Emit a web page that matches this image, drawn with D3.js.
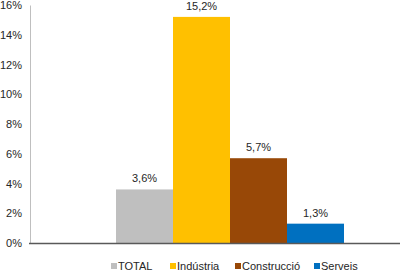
<!DOCTYPE html>
<html>
<head>
<meta charset="utf-8">
<script src="https://cdn.jsdelivr.net/npm/d3@7"></script>
<style>
  body { margin: 0; background: #fff; }
  svg text { font-family: "Liberation Sans", Arial, sans-serif; fill: #262626; }
</style>
</head>
<body>
<div id="container"></div>
<script>
var series = ['TOTAL', 'Indústria', 'Construcció', 'Serveis'],
    values = [3.6, 15.2, 5.7, 1.3],
    labels = ['3,6%', '15,2%', '5,7%', '1,3%'],
    colors = ['#bfbfbf', '#ffc000', '#984807', '#0070c0'],
    yTicks = [0, 2, 4, 6, 8, 10, 12, 14, 16];

var w = 400, h = 271,
    margin = {top: 5, right: 0, bottom: 28, left: 30};

var svg = d3.select('#container').append('svg')
    .attr('width', w)
    .attr('height', h);

/* y scale */
var yScale = d3.scaleLinear()
    .domain([0, 16])
    .range([h - margin.bottom, margin.top]);

/* single category, bars sit in the middle of a wider plot */
var xScale = d3.scaleBand()
    .domain(series)
    .range([116, 344])
    .padding(0);

// y axis
var yAxis = d3.axisLeft(yScale)
    .tickValues(yTicks)
    .tickSize(0)
    .tickPadding(8)
    .tickFormat(d => d + '%');

var gy = svg.append('g')
    .attr('transform', 'translate(' + margin.left + ',0)')
    .call(yAxis);
gy.select('.domain').attr('stroke', '#bfbfbf').attr('stroke-width', 1);
gy.selectAll('text').style('font-size', '11px').attr('fill', '#262626');

// bars
svg.selectAll('rect.bar').data(series)
    .enter().append('rect')
        .attr('class', 'bar')
        .attr('x', d => xScale(d))
        .attr('y', (d, i) => yScale(values[i]))
        .attr('width', xScale.bandwidth())
        .attr('height', (d, i) => yScale(0) - yScale(values[i]))
        .style('fill', (d, i) => colors[i]);

// value labels
svg.selectAll('text.val').data(series)
    .enter().append('text')
        .attr('class', 'val')
        .attr('x', d => xScale(d) + xScale.bandwidth() / 2)
        .attr('y', (d, i) => yScale(values[i]) - 7)
        .attr('text-anchor', 'middle')
        .style('font-size', '11px')
        .text((d, i) => labels[i]);

// x axis line
svg.append('line')
    .attr('x1', margin.left - 1)
    .attr('x2', w)
    .attr('y1', yScale(0) + 0.5)
    .attr('y2', yScale(0) + 0.5)
    .attr('stroke', '#595959')
    .attr('stroke-width', 1.5);

// legend
var legendX = [111, 170, 235, 314];
var legend = svg.selectAll('g.legend').data(series)
    .enter().append('g')
        .attr('class', 'legend')
        .attr('transform', (d, i) => 'translate(' + legendX[i] + ',266)');
legend.append('rect')
    .attr('x', 0).attr('y', -3)
    .attr('width', 6).attr('height', 6)
    .style('fill', (d, i) => colors[i]);
legend.append('text')
    .attr('x', 7).attr('y', 4)
    .style('font-size', '11px')
    .text(d => d);
</script>
</body>
</html>
